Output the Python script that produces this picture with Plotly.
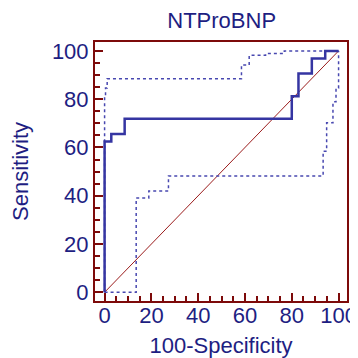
import plotly.graph_objects as go

# ROC curve (100-Specificity, Sensitivity), step points
roc_fpr = [0, 0, 2.86, 8.57, 80.0, 82.86, 88.57, 94.29, 100]
roc_tpr = [0, 62.5, 65.6, 71.9, 81.2, 90.6, 96.9, 100, 100]

# Upper confidence bound
up_fpr = [0, 0, 0.4, 1.1, 58.5, 61.8, 68.8, 76.8, 100]
up_tpr = [0, 81.2, 84.6, 88.5, 94.2, 98.2, 98.9, 100, 100]

# Lower confidence bound
lo_fpr = [0, 13.5, 18.9, 27.3, 93.4, 94.9, 97.6, 98.9, 100]
lo_tpr = [0, 39.1, 42.0, 48.2, 58.4, 70.2, 78.9, 84.6, 100]

# Reference diagonal
diag = [0, 100]

tick_vals = [0, 20, 40, 60, 80, 100]
tick_text = ["0", "20", "40", "60", "80", "100"]

navy = "#1e1e82"
maroon = "#7d0a0a"
blue = "#3535a2"
font_family = "Liberation Sans, Arial, sans-serif"

# the page body has an 8px margin, so the figure is drawn 8px smaller
OFF = 8
W = H = 358 - OFF

fig = go.Figure()
fig.add_trace(go.Scatter(x=diag, y=diag, mode="lines",
                         line=dict(color="#9b1c1c", width=1), hoverinfo="skip"))
fig.add_trace(go.Scatter(x=lo_fpr, y=lo_tpr, mode="lines", line_shape="hv",
                         line=dict(color="#4848b0", width=1.5, dash="dot")))
fig.add_trace(go.Scatter(x=up_fpr, y=up_tpr, mode="lines", line_shape="hv",
                         line=dict(color="#4848b0", width=1.5, dash="dot")))
fig.add_trace(go.Scatter(x=roc_fpr, y=roc_tpr, mode="lines", line_shape="hv",
                         line=dict(color=blue, width=2.5)))

axis_common = dict(
    tickvals=tick_vals, ticktext=tick_text,
    ticks="inside", ticklen=8, tickwidth=1.5, tickcolor=maroon,
    minor=dict(dtick=5, tick0=0, ticks="inside", ticklen=5, tickwidth=1.5, tickcolor=maroon),
    showline=True, linecolor=maroon, linewidth=2, mirror=True,
    showgrid=False, zeroline=False, automargin=False,
    tickfont=dict(family=font_family, size=22, color=navy),
)

fig.update_layout(
    width=W, height=H,
    margin=dict(l=95 - OFF, r=11, t=42 - OFF, b=65 - OFF),
    paper_bgcolor="white", plot_bgcolor="white",
    showlegend=False,
    title=dict(text="NTProBNP", x=(221.7 - OFF) / W, xref="container", xanchor="center",
               y=1 - (20.5 - OFF) / H, yref="container", yanchor="middle",
               automargin=False,
               font=dict(family=font_family, size=22, color=navy)),
    xaxis=dict(range=[-4.1, 103.6],
               title=dict(text="100-Specificity", standoff=18,
                          font=dict(family=font_family, size=22, color=navy)),
               ticklabelstandoff=-6,
               **axis_common),
    yaxis=dict(range=[-3.6, 103.7],
               title=dict(text="Sensitivity", standoff=18,
                          font=dict(family=font_family, size=22, color=navy)),
               ticklabelstandoff=0,
               **axis_common),
)

fig.write_html("out.html")
